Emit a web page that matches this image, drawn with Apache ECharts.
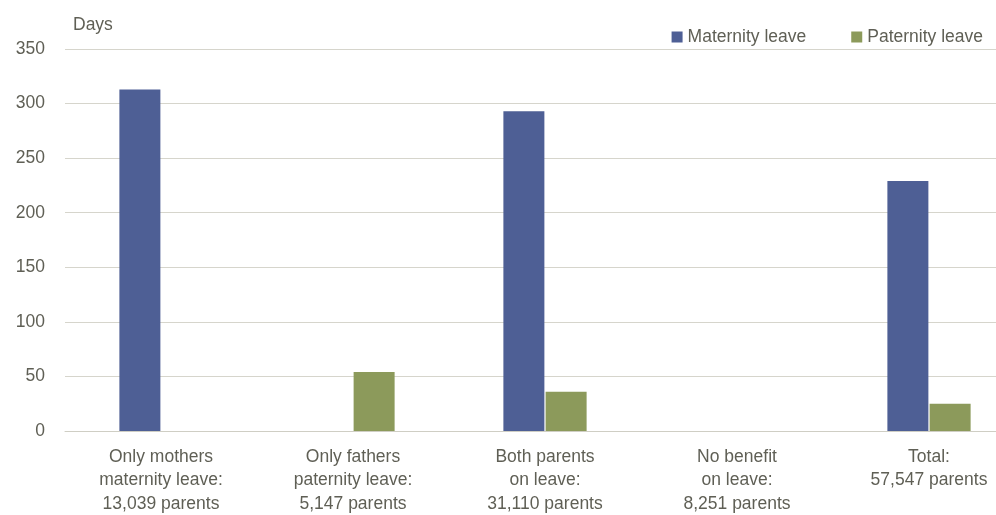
<!DOCTYPE html>
<html>
<head>
<meta charset="utf-8">
<script src="https://cdn.jsdelivr.net/npm/echarts@6/dist/echarts.min.js"></script>
<style>html,body{margin:0;padding:0;background:#fff;overflow:hidden;width:996px;height:515px}#c{width:1025px;height:515px}</style>
</head>
<body>
<div id="c"></div>
<script>
var categories = [
  "Only mothers\nmaternity leave:\n13,039 parents",
  "Only fathers\npaternity leave:\n5,147 parents",
  "Both parents\non leave:\n31,110 parents",
  "No benefit\non leave:\n8,251 parents",
  "Total:\n57,547 parents"
];
var maternity = [313, null, 293, null, 229];
var paternity = [null, 54, 36, null, 25];
var yTicks = [0, 50, 100, 150, 200, 250, 300, 350];

var textColor = "#5f5f55";
var font = "Liberation Sans";
var chart = echarts.init(document.getElementById("c"), null, {renderer: "canvas"});
chart.setOption({
  animation: false,
  backgroundColor: "#fff",
  title: {
    text: "Days", left: 68, top: 11,
    textStyle: {fontFamily: font, fontSize: 17.5, fontWeight: "normal", color: textColor}
  },
  legend: {
    right: 37, top: 23, itemWidth: 11, itemHeight: 11, itemGap: 45,
    icon: "rect",
    textStyle: {fontFamily: font, fontSize: 17.5, color: textColor},
    data: ["Maternity leave", "Paternity leave"]
  },
  grid: {left: 65, right: 0, top: 49, bottom: 84, containLabel: false, outerBoundsMode: "none"},
  xAxis: {
    type: "category", data: categories,
    axisLine: {show: true, lineStyle: {color: "#cfcec4", width: 1}},
    axisTick: {show: false},
    axisLabel: {fontFamily: font, fontSize: 17.5, color: textColor, lineHeight: 23.5, margin: 14, interval: 0}
  },
  yAxis: {
    type: "value", min: yTicks[0], max: yTicks[yTicks.length-1], interval: 50,
    axisLine: {show: false}, axisTick: {show: false},
    axisLabel: {fontFamily: font, fontSize: 17.5, color: textColor, margin: 20},
    splitLine: {lineStyle: {color: "#d6d5cc", width: 1}}
  },
  series: [
    {name: "Maternity leave", type: "bar", data: maternity, barWidth: 41, barGap: "3%",
     itemStyle: {color: "#4e5f95"}},
    {name: "Paternity leave", type: "bar", data: paternity, barWidth: 41, barGap: "3%",
     itemStyle: {color: "#8c9a5b"}}
  ]
});
</script>
</body>
</html>
